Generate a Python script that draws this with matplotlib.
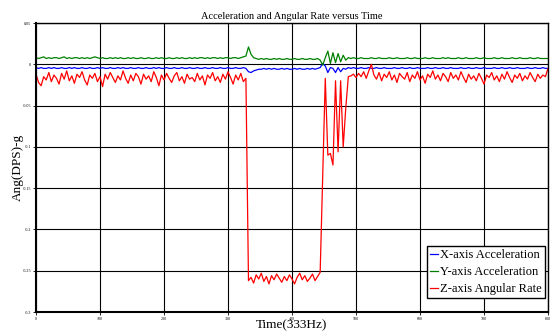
import numpy as np
import matplotlib
matplotlib.use("Agg")
import matplotlib.pyplot as plt

# ---- data (sampled every 4 samples, 0..800) ----
time = np.arange(0, 801, 4)

z_rate = [
    # 0..328
    -0.012, -0.022, -0.026, -0.015, -0.019, -0.010, -0.021, -0.013, -0.017, -0.024,
    -0.011, -0.018, -0.008, -0.020, -0.014, -0.023, -0.012, -0.016, -0.009, -0.019,
    -0.025, -0.013, -0.017, -0.011, -0.021, -0.015, -0.027, -0.012, -0.018, -0.010,
    -0.016, -0.022, -0.014, -0.019, -0.008, -0.017, -0.023, -0.013, -0.020, -0.011,
    -0.015, -0.024, -0.012, -0.018, -0.014, -0.021, -0.009, -0.016, -0.026, -0.013,
    -0.019, -0.011, -0.017, -0.022, -0.014, -0.010, -0.020, -0.015, -0.023, -0.012,
    -0.018, -0.016, -0.021, -0.011, -0.019, -0.014, -0.025, -0.013, -0.017, -0.010,
    -0.020, -0.015, -0.022, -0.012, -0.018, -0.009, -0.016, -0.024, -0.013, -0.019,
    -0.011, -0.021, -0.017,
    # 332..444
    -0.262, -0.258, -0.265, -0.255, -0.260, -0.253, -0.263, -0.257, -0.266, -0.256,
    -0.261, -0.254, -0.259, -0.264, -0.257, -0.262, -0.255, -0.260, -0.266, -0.258,
    -0.253, -0.261, -0.256, -0.263, -0.259, -0.254, -0.262, -0.257, -0.252,
    # 448..488
    -0.135, -0.017, -0.110, -0.108, -0.122, -0.020, -0.106, -0.020, -0.100, -0.053, -0.015,
    # 492..800
    -0.014, -0.012, -0.016, -0.011, -0.015, -0.009, -0.017, -0.008, 0.000, -0.013,
    -0.018, -0.010, -0.020, -0.012, -0.016, -0.009, -0.019, -0.013, -0.022, -0.011,
    -0.015, -0.018, -0.010, -0.021, -0.013, -0.017, -0.009, -0.019, -0.014, -0.023,
    -0.012, -0.016, -0.008, -0.018, -0.013, -0.020, -0.011, -0.015, -0.021, -0.010,
    -0.017, -0.013, -0.019, -0.009, -0.016, -0.022, -0.012, -0.018, -0.014, -0.020,
    -0.011, -0.017, -0.024, -0.013, -0.016, -0.010, -0.019, -0.014, -0.021, -0.012,
    -0.018, -0.009, -0.016, -0.022, -0.013, -0.017, -0.011, -0.020, -0.014, -0.018,
    -0.010, -0.016, -0.021, -0.012, -0.017, -0.013, -0.015, -0.005,
]

y_acc = [
    # 0..328
    0.008, 0.007, 0.008, 0.009, 0.007, 0.008, 0.007, 0.008, 0.008, 0.007,
    0.008, 0.009, 0.007, 0.008, 0.007, 0.008, 0.008, 0.007, 0.008, 0.007,
    0.008, 0.007, 0.008, 0.009, 0.008, 0.007, 0.008, 0.007, 0.007, 0.008,
    0.007, 0.008, 0.007, 0.008, 0.007, 0.007, 0.008, 0.007, 0.008, 0.007,
    0.007, 0.008, 0.007, 0.007, 0.008, 0.007, 0.007, 0.008, 0.007, 0.008,
    0.007, 0.007, 0.008, 0.007, 0.007, 0.008, 0.007, 0.008, 0.007, 0.007,
    0.008, 0.007, 0.008, 0.007, 0.008, 0.008, 0.007, 0.008, 0.007, 0.008,
    0.008, 0.007, 0.008, 0.007, 0.008, 0.008, 0.007, 0.008, 0.008, 0.007,
    0.008, 0.009, 0.010,
    # 332..444
    0.021, 0.012, 0.008, 0.007, 0.006, 0.007, 0.006, 0.007, 0.006, 0.006,
    0.007, 0.006, 0.007, 0.006, 0.006, 0.007, 0.006, 0.006, 0.007, 0.006,
    0.006, 0.007, 0.006, 0.006, 0.007, 0.006, 0.006, 0.007, 0.005,
    # 448..488
    -0.001, 0.008, 0.016, 0.001, 0.014, 0.002, 0.013, 0.003, 0.011, 0.005, 0.008,
    # 492..800
    0.007, 0.008, 0.007, 0.007, 0.008, 0.007, 0.007, 0.007, 0.008, 0.007,
    0.007, 0.008, 0.007, 0.007, 0.007, 0.008, 0.007, 0.007, 0.008, 0.007,
    0.007, 0.007, 0.008, 0.007, 0.007, 0.008, 0.007, 0.007, 0.007, 0.008,
    0.007, 0.007, 0.008, 0.007, 0.007, 0.007, 0.008, 0.007, 0.008, 0.007,
    0.007, 0.007, 0.008, 0.007, 0.007, 0.008, 0.007, 0.007, 0.007, 0.008,
    0.007, 0.007, 0.008, 0.007, 0.007, 0.007, 0.008, 0.007, 0.007, 0.008,
    0.007, 0.007, 0.007, 0.008, 0.007, 0.007, 0.008, 0.007, 0.007, 0.007,
    0.008, 0.007, 0.007, 0.008, 0.007, 0.007, 0.007, 0.007,
]

x_acc = [
    # 0..328
    -0.004, -0.005, -0.004, -0.005, -0.005, -0.004, -0.005, -0.004, -0.005, -0.005,
    -0.004, -0.005, -0.005, -0.004, -0.005, -0.004, -0.005, -0.005, -0.004, -0.005,
    -0.005, -0.004, -0.005, -0.005, -0.004, -0.005, -0.004, -0.005, -0.005, -0.004,
    -0.005, -0.005, -0.004, -0.005, -0.004, -0.005, -0.005, -0.004, -0.005, -0.005,
    -0.004, -0.005, -0.005, -0.004, -0.005, -0.005, -0.004, -0.005, -0.004, -0.005,
    -0.005, -0.004, -0.005, -0.005, -0.004, -0.005, -0.005, -0.004, -0.005, -0.005,
    -0.004, -0.005, -0.005, -0.004, -0.005, -0.005, -0.004, -0.005, -0.005, -0.004,
    -0.005, -0.005, -0.004, -0.005, -0.005, -0.004, -0.005, -0.005, -0.004, -0.005,
    -0.005, -0.004, -0.005,
    # 332..444
    -0.009, -0.010, -0.008, -0.007, -0.006, -0.006, -0.005, -0.006, -0.005, -0.006,
    -0.005, -0.006, -0.006, -0.005, -0.006, -0.005, -0.006, -0.006, -0.005, -0.006,
    -0.005, -0.006, -0.006, -0.005, -0.006, -0.005, -0.006, -0.005, -0.004,
    # 448..488
    0.001, -0.002, -0.010, -0.004, -0.005, -0.010, -0.004, -0.009, -0.005, -0.006, -0.004,
    # 492..800
    -0.005, -0.004, -0.005, -0.005, -0.004, -0.005, -0.005, -0.004, -0.005, -0.005,
    -0.004, -0.005, -0.005, -0.004, -0.005, -0.005, -0.005, -0.004, -0.005, -0.005,
    -0.004, -0.005, -0.005, -0.004, -0.005, -0.005, -0.004, -0.005, -0.005, -0.005,
    -0.004, -0.005, -0.005, -0.004, -0.005, -0.005, -0.004, -0.005, -0.005, -0.004,
    -0.005, -0.005, -0.005, -0.004, -0.005, -0.005, -0.004, -0.005, -0.005, -0.004,
    -0.005, -0.005, -0.004, -0.005, -0.005, -0.005, -0.004, -0.005, -0.005, -0.004,
    -0.005, -0.005, -0.004, -0.005, -0.005, -0.004, -0.005, -0.005, -0.005, -0.004,
    -0.005, -0.005, -0.004, -0.005, -0.005, -0.004, -0.005, -0.005,
]

x_ticks = [0, 100, 200, 300, 400, 500, 600, 700, 800]
y_ticks = [0.05, 0, -0.05, -0.1, -0.15, -0.2, -0.25, -0.3]
y_tick_labels = ["0.05", "0", "-0.05", "-0.1", "-0.15", "-0.2", "-0.25", "-0.3"]
series_labels = ["X-axis Acceleration", "Y-axis Acceleration", "Z-axis Angular Rate"]

plt.rcParams['font.family'] = ['Liberation Serif', 'DejaVu Serif']

fig = plt.figure(figsize=(5.5, 3.31), dpi=100)
ax = fig.add_axes([36/550, 19/331, 512/550, 289/331])

ax.plot(time, x_acc, color='#0000ff', lw=0.9, label=series_labels[0])
ax.plot(time, y_acc, color='#008000', lw=0.9, label=series_labels[1])
ax.plot(time, z_rate, color='#ff0000', lw=0.9, label=series_labels[2])

ax.set_xlim(0, 800)
ax.set_ylim(-0.3, 0.05)
ax.set_xticks(x_ticks)
ax.set_xticklabels([str(t) for t in x_ticks])
ax.set_yticks(y_ticks)
ax.set_yticklabels(y_tick_labels)
ax.tick_params(labelsize=3, length=2, width=0.6, pad=1.5)
ax.grid(True, color='black', lw=0.8)
ax.set_axisbelow(True)
for side in ['left', 'bottom']:
    ax.spines[side].set_linewidth(1.5)
for side in ['top', 'right']:
    ax.spines[side].set_linewidth(1.0)

ax.set_title("Acceleration and Angular Rate versus Time", fontsize=7.5, pad=3)
ax.set_xlabel("Time(333Hz)", fontsize=9.5, labelpad=-1)
ax.set_ylabel("Ang(DPS)-g", fontsize=9.5, labelpad=-1)

leg = ax.legend(loc='lower right', fontsize=9, handlelength=0.7, handletextpad=0.15,
                borderpad=0.25, labelspacing=0.4, fancybox=False, framealpha=1,
                edgecolor='black', borderaxespad=0,
                bbox_to_anchor=(545/550, (331-298)/331), bbox_transform=fig.transFigure)
leg.get_frame().set_linewidth(1.0)

fig.savefig("out.png", dpi=100)
